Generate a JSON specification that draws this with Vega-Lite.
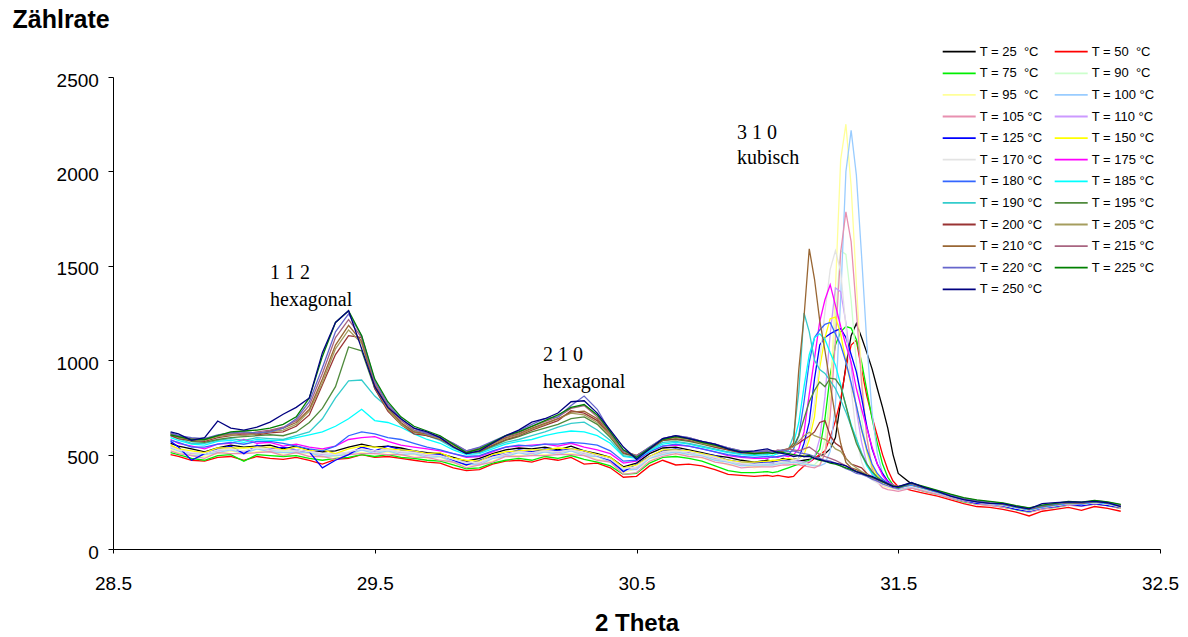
{
"$schema":"https://vega.github.io/schema/vega-lite/v6.json",
"width":1047,"height":472,
"autosize":"none",
"padding":{"left":113,"top":77,"right":28,"bottom":88},
"background":"white",
"config":{"view":{"stroke":null},"font":"Liberation Sans","axis":{"labelFont":"Liberation Sans","titleFont":"Liberation Sans","grid":false,"domainColor":"black","tickColor":"black","labelColor":"black","titleColor":"black"}},
"layer":[
{"data":{"values":[
{"T":25,"x":28.72,"y":560},{"T":25,"x":28.75,"y":545},{"T":25,"x":28.8,"y":530},{"T":25,"x":28.85,"y":515},{"T":25,"x":28.9,"y":535},{"T":25,"x":28.95,"y":550},{"T":25,"x":29,"y":540},{"T":25,"x":29.05,"y":545},{"T":25,"x":29.1,"y":550},{"T":25,"x":29.15,"y":530},{"T":25,"x":29.2,"y":545},{"T":25,"x":29.25,"y":525},{"T":25,"x":29.3,"y":515},{"T":25,"x":29.35,"y":520},{"T":25,"x":29.4,"y":540},{"T":25,"x":29.45,"y":555},{"T":25,"x":29.5,"y":540},{"T":25,"x":29.55,"y":545},{"T":25,"x":29.6,"y":535},{"T":25,"x":29.65,"y":520},{"T":25,"x":29.7,"y":510},{"T":25,"x":29.75,"y":505},{"T":25,"x":29.8,"y":485},{"T":25,"x":29.85,"y":465},{"T":25,"x":29.9,"y":480},{"T":25,"x":29.95,"y":505},{"T":25,"x":30,"y":525},{"T":25,"x":30.05,"y":535},{"T":25,"x":30.1,"y":530},{"T":25,"x":30.15,"y":540},{"T":25,"x":30.2,"y":525},{"T":25,"x":30.25,"y":545},{"T":25,"x":30.3,"y":520},{"T":25,"x":30.35,"y":505},{"T":25,"x":30.4,"y":485},{"T":25,"x":30.45,"y":435},{"T":25,"x":30.5,"y":455},{"T":25,"x":30.55,"y":505},{"T":25,"x":30.6,"y":535},{"T":25,"x":30.65,"y":540},{"T":25,"x":30.7,"y":525},{"T":25,"x":30.75,"y":510},{"T":25,"x":30.8,"y":495},{"T":25,"x":30.85,"y":485},{"T":25,"x":30.9,"y":470},{"T":25,"x":30.95,"y":460},{"T":25,"x":31,"y":470},
{"T":25,"x":31.02,"y":465},{"T":25,"x":31.04,"y":470},{"T":25,"x":31.06,"y":480},{"T":25,"x":31.08,"y":475},{"T":25,"x":31.1,"y":470},{"T":25,"x":31.12,"y":465},{"T":25,"x":31.14,"y":470},{"T":25,"x":31.16,"y":475},{"T":25,"x":31.18,"y":480},{"T":25,"x":31.2,"y":490},{"T":25,"x":31.22,"y":505},{"T":25,"x":31.24,"y":530},{"T":25,"x":31.26,"y":590},{"T":25,"x":31.28,"y":780},{"T":25,"x":31.3,"y":970},{"T":25,"x":31.32,"y":1130},{"T":25,"x":31.34,"y":1194},{"T":25,"x":31.36,"y":1120},{"T":25,"x":31.38,"y":1040},{"T":25,"x":31.4,"y":954},{"T":25,"x":31.42,"y":850},{"T":25,"x":31.44,"y":750},{"T":25,"x":31.46,"y":640},{"T":25,"x":31.48,"y":500},{"T":25,"x":31.5,"y":400},
{"T":25,"x":31.55,"y":345},{"T":25,"x":31.6,"y":325},{"T":25,"x":31.65,"y":305},{"T":25,"x":31.7,"y":285},{"T":25,"x":31.75,"y":265},{"T":25,"x":31.8,"y":250},{"T":25,"x":31.85,"y":245},{"T":25,"x":31.9,"y":235},{"T":25,"x":31.95,"y":222},{"T":25,"x":32,"y":210},{"T":25,"x":32.05,"y":220},{"T":25,"x":32.1,"y":235},{"T":25,"x":32.15,"y":245},{"T":25,"x":32.2,"y":240},{"T":25,"x":32.25,"y":250},{"T":25,"x":32.3,"y":242},{"T":25,"x":32.35,"y":228},
{"T":50,"x":28.72,"y":500},{"T":50,"x":28.75,"y":490},{"T":50,"x":28.8,"y":470},{"T":50,"x":28.85,"y":465},{"T":50,"x":28.9,"y":485},{"T":50,"x":28.95,"y":490},{"T":50,"x":29,"y":470},{"T":50,"x":29.05,"y":490},{"T":50,"x":29.1,"y":480},{"T":50,"x":29.15,"y":475},{"T":50,"x":29.2,"y":485},{"T":50,"x":29.25,"y":470},{"T":50,"x":29.3,"y":450},{"T":50,"x":29.35,"y":475},{"T":50,"x":29.4,"y":480},{"T":50,"x":29.45,"y":500},{"T":50,"x":29.5,"y":485},{"T":50,"x":29.55,"y":490},{"T":50,"x":29.6,"y":480},{"T":50,"x":29.65,"y":470},{"T":50,"x":29.7,"y":460},{"T":50,"x":29.75,"y":455},{"T":50,"x":29.8,"y":430},{"T":50,"x":29.85,"y":415},{"T":50,"x":29.9,"y":420},{"T":50,"x":29.95,"y":450},{"T":50,"x":30,"y":465},{"T":50,"x":30.05,"y":470},{"T":50,"x":30.1,"y":460},{"T":50,"x":30.15,"y":480},{"T":50,"x":30.2,"y":470},{"T":50,"x":30.25,"y":485},{"T":50,"x":30.3,"y":450},{"T":50,"x":30.35,"y":455},{"T":50,"x":30.4,"y":430},{"T":50,"x":30.45,"y":380},{"T":50,"x":30.5,"y":385},{"T":50,"x":30.55,"y":440},{"T":50,"x":30.6,"y":470},{"T":50,"x":30.65,"y":445},{"T":50,"x":30.7,"y":450},{"T":50,"x":30.75,"y":440},{"T":50,"x":30.8,"y":420},{"T":50,"x":30.85,"y":395},{"T":50,"x":30.9,"y":390},{"T":50,"x":30.95,"y":385},{"T":50,"x":31,"y":390},
{"T":50,"x":31.02,"y":385},{"T":50,"x":31.04,"y":390},{"T":50,"x":31.06,"y":385},{"T":50,"x":31.08,"y":380},{"T":50,"x":31.1,"y":384},{"T":50,"x":31.12,"y":415},{"T":50,"x":31.14,"y":440},{"T":50,"x":31.16,"y":460},{"T":50,"x":31.18,"y":480},{"T":50,"x":31.2,"y":500},{"T":50,"x":31.22,"y":520},{"T":50,"x":31.24,"y":590},{"T":50,"x":31.26,"y":680},{"T":50,"x":31.28,"y":790},{"T":50,"x":31.3,"y":960},{"T":50,"x":31.32,"y":1080},{"T":50,"x":31.34,"y":1105},{"T":50,"x":31.36,"y":950},{"T":50,"x":31.38,"y":810},{"T":50,"x":31.4,"y":700},{"T":50,"x":31.42,"y":600},{"T":50,"x":31.44,"y":500},{"T":50,"x":31.46,"y":420},{"T":50,"x":31.48,"y":360},{"T":50,"x":31.5,"y":330},
{"T":50,"x":31.55,"y":310},{"T":50,"x":31.6,"y":295},{"T":50,"x":31.65,"y":280},{"T":50,"x":31.7,"y":260},{"T":50,"x":31.75,"y":240},{"T":50,"x":31.8,"y":225},{"T":50,"x":31.85,"y":220},{"T":50,"x":31.9,"y":210},{"T":50,"x":31.95,"y":195},{"T":50,"x":32,"y":175},{"T":50,"x":32.05,"y":200},{"T":50,"x":32.1,"y":210},{"T":50,"x":32.15,"y":220},{"T":50,"x":32.2,"y":205},{"T":50,"x":32.25,"y":225},{"T":50,"x":32.3,"y":215},{"T":50,"x":32.35,"y":200},
{"T":75,"x":28.72,"y":510},{"T":75,"x":28.75,"y":500},{"T":75,"x":28.8,"y":480},{"T":75,"x":28.85,"y":470},{"T":75,"x":28.9,"y":495},{"T":75,"x":28.95,"y":500},{"T":75,"x":29,"y":465},{"T":75,"x":29.05,"y":500},{"T":75,"x":29.1,"y":495},{"T":75,"x":29.15,"y":490},{"T":75,"x":29.2,"y":495},{"T":75,"x":29.25,"y":480},{"T":75,"x":29.3,"y":470},{"T":75,"x":29.35,"y":480},{"T":75,"x":29.4,"y":485},{"T":75,"x":29.45,"y":500},{"T":75,"x":29.5,"y":490},{"T":75,"x":29.55,"y":500},{"T":75,"x":29.6,"y":485},{"T":75,"x":29.65,"y":480},{"T":75,"x":29.7,"y":470},{"T":75,"x":29.75,"y":465},{"T":75,"x":29.8,"y":445},{"T":75,"x":29.85,"y":425},{"T":75,"x":29.9,"y":430},{"T":75,"x":29.95,"y":455},{"T":75,"x":30,"y":470},{"T":75,"x":30.05,"y":480},{"T":75,"x":30.1,"y":470},{"T":75,"x":30.15,"y":490},{"T":75,"x":30.2,"y":480},{"T":75,"x":30.25,"y":495},{"T":75,"x":30.3,"y":475},{"T":75,"x":30.35,"y":460},{"T":75,"x":30.4,"y":440},{"T":75,"x":30.45,"y":395},{"T":75,"x":30.5,"y":400},{"T":75,"x":30.55,"y":455},{"T":75,"x":30.6,"y":485},{"T":75,"x":30.65,"y":490},{"T":75,"x":30.7,"y":480},{"T":75,"x":30.75,"y":465},{"T":75,"x":30.8,"y":440},{"T":75,"x":30.85,"y":415},{"T":75,"x":30.9,"y":405},{"T":75,"x":30.95,"y":405},{"T":75,"x":31,"y":410},
{"T":75,"x":31.02,"y":405},{"T":75,"x":31.04,"y":410},{"T":75,"x":31.06,"y":420},{"T":75,"x":31.08,"y":430},{"T":75,"x":31.1,"y":440},{"T":75,"x":31.12,"y":450},{"T":75,"x":31.14,"y":460},{"T":75,"x":31.16,"y":470},{"T":75,"x":31.18,"y":490},{"T":75,"x":31.2,"y":528},{"T":75,"x":31.22,"y":690},{"T":75,"x":31.24,"y":920},{"T":75,"x":31.26,"y":1080},{"T":75,"x":31.28,"y":1150},{"T":75,"x":31.3,"y":1178},{"T":75,"x":31.32,"y":1170},{"T":75,"x":31.34,"y":1110},{"T":75,"x":31.36,"y":990},{"T":75,"x":31.38,"y":840},{"T":75,"x":31.4,"y":690},{"T":75,"x":31.42,"y":560},{"T":75,"x":31.44,"y":450},{"T":75,"x":31.46,"y":380},{"T":75,"x":31.48,"y":340},{"T":75,"x":31.5,"y":320},
{"T":75,"x":31.55,"y":325},{"T":75,"x":31.6,"y":305},{"T":75,"x":31.65,"y":290},{"T":75,"x":31.7,"y":270},{"T":75,"x":31.75,"y":250},{"T":75,"x":31.8,"y":238},{"T":75,"x":31.85,"y":232},{"T":75,"x":31.9,"y":222},{"T":75,"x":31.95,"y":208},{"T":75,"x":32,"y":195},{"T":75,"x":32.05,"y":212},{"T":75,"x":32.1,"y":220},{"T":75,"x":32.15,"y":232},{"T":75,"x":32.2,"y":228},{"T":75,"x":32.25,"y":238},{"T":75,"x":32.3,"y":230},{"T":75,"x":32.35,"y":215},
{"T":90,"x":28.72,"y":540},{"T":90,"x":28.75,"y":525},{"T":90,"x":28.8,"y":505},{"T":90,"x":28.85,"y":500},{"T":90,"x":28.9,"y":520},{"T":90,"x":28.95,"y":525},{"T":90,"x":29,"y":515},{"T":90,"x":29.05,"y":530},{"T":90,"x":29.1,"y":525},{"T":90,"x":29.15,"y":515},{"T":90,"x":29.2,"y":520},{"T":90,"x":29.25,"y":510},{"T":90,"x":29.3,"y":500},{"T":90,"x":29.35,"y":495},{"T":90,"x":29.4,"y":510},{"T":90,"x":29.45,"y":525},{"T":90,"x":29.5,"y":515},{"T":90,"x":29.55,"y":520},{"T":90,"x":29.6,"y":510},{"T":90,"x":29.65,"y":505},{"T":90,"x":29.7,"y":495},{"T":90,"x":29.75,"y":490},{"T":90,"x":29.8,"y":470},{"T":90,"x":29.85,"y":450},{"T":90,"x":29.9,"y":455},{"T":90,"x":29.95,"y":480},{"T":90,"x":30,"y":500},{"T":90,"x":30.05,"y":510},{"T":90,"x":30.1,"y":505},{"T":90,"x":30.15,"y":515},{"T":90,"x":30.2,"y":510},{"T":90,"x":30.25,"y":520},{"T":90,"x":30.3,"y":505},{"T":90,"x":30.35,"y":490},{"T":90,"x":30.4,"y":470},{"T":90,"x":30.45,"y":420},{"T":90,"x":30.5,"y":430},{"T":90,"x":30.55,"y":480},{"T":90,"x":30.6,"y":510},{"T":90,"x":30.65,"y":515},{"T":90,"x":30.7,"y":510},{"T":90,"x":30.75,"y":495},{"T":90,"x":30.8,"y":480},{"T":90,"x":30.85,"y":460},{"T":90,"x":30.9,"y":450},{"T":90,"x":30.95,"y":445},{"T":90,"x":31,"y":450},
{"T":90,"x":31.02,"y":450},{"T":90,"x":31.04,"y":455},{"T":90,"x":31.06,"y":460},{"T":90,"x":31.08,"y":460},{"T":90,"x":31.1,"y":465},{"T":90,"x":31.12,"y":460},{"T":90,"x":31.14,"y":455},{"T":90,"x":31.16,"y":450},{"T":90,"x":31.18,"y":446},{"T":90,"x":31.2,"y":475},{"T":90,"x":31.22,"y":580},{"T":90,"x":31.24,"y":833},{"T":90,"x":31.26,"y":1228},{"T":90,"x":31.28,"y":1580},{"T":90,"x":31.3,"y":1560},{"T":90,"x":31.32,"y":1317},{"T":90,"x":31.34,"y":982},{"T":90,"x":31.36,"y":694},{"T":90,"x":31.38,"y":508},{"T":90,"x":31.4,"y":416},{"T":90,"x":31.42,"y":375},{"T":90,"x":31.44,"y":350},{"T":90,"x":31.46,"y":340},{"T":90,"x":31.48,"y":330},{"T":90,"x":31.5,"y":320},
{"T":90,"x":31.55,"y":330},{"T":90,"x":31.6,"y":312},{"T":90,"x":31.65,"y":295},{"T":90,"x":31.7,"y":275},{"T":90,"x":31.75,"y":255},{"T":90,"x":31.8,"y":244},{"T":90,"x":31.85,"y":236},{"T":90,"x":31.9,"y":228},{"T":90,"x":31.95,"y":214},{"T":90,"x":32,"y":202},{"T":90,"x":32.05,"y":216},{"T":90,"x":32.1,"y":226},{"T":90,"x":32.15,"y":236},{"T":90,"x":32.2,"y":232},{"T":90,"x":32.25,"y":242},{"T":90,"x":32.3,"y":234},{"T":90,"x":32.35,"y":220},
{"T":95,"x":28.72,"y":530},{"T":95,"x":28.75,"y":510},{"T":95,"x":28.8,"y":500},{"T":95,"x":28.85,"y":490},{"T":95,"x":28.9,"y":505},{"T":95,"x":28.95,"y":520},{"T":95,"x":29,"y":505},{"T":95,"x":29.05,"y":515},{"T":95,"x":29.1,"y":520},{"T":95,"x":29.15,"y":500},{"T":95,"x":29.2,"y":510},{"T":95,"x":29.25,"y":505},{"T":95,"x":29.3,"y":485},{"T":95,"x":29.35,"y":490},{"T":95,"x":29.4,"y":505},{"T":95,"x":29.45,"y":510},{"T":95,"x":29.5,"y":505},{"T":95,"x":29.55,"y":515},{"T":95,"x":29.6,"y":495},{"T":95,"x":29.65,"y":500},{"T":95,"x":29.7,"y":480},{"T":95,"x":29.75,"y":485},{"T":95,"x":29.8,"y":455},{"T":95,"x":29.85,"y":440},{"T":95,"x":29.9,"y":450},{"T":95,"x":29.95,"y":465},{"T":95,"x":30,"y":495},{"T":95,"x":30.05,"y":495},{"T":95,"x":30.1,"y":500},{"T":95,"x":30.15,"y":500},{"T":95,"x":30.2,"y":505},{"T":95,"x":30.25,"y":505},{"T":95,"x":30.3,"y":500},{"T":95,"x":30.35,"y":475},{"T":95,"x":30.4,"y":465},{"T":95,"x":30.45,"y":405},{"T":95,"x":30.5,"y":425},{"T":95,"x":30.55,"y":465},{"T":95,"x":30.6,"y":505},{"T":95,"x":30.65,"y":500},{"T":95,"x":30.7,"y":505},{"T":95,"x":30.75,"y":480},{"T":95,"x":30.8,"y":475},{"T":95,"x":30.85,"y":445},{"T":95,"x":30.9,"y":445},{"T":95,"x":30.95,"y":430},{"T":95,"x":31,"y":445},
{"T":95,"x":31.02,"y":445},{"T":95,"x":31.04,"y":450},{"T":95,"x":31.06,"y":455},{"T":95,"x":31.08,"y":455},{"T":95,"x":31.1,"y":460},{"T":95,"x":31.12,"y":455},{"T":95,"x":31.14,"y":450},{"T":95,"x":31.16,"y":445},{"T":95,"x":31.18,"y":440},{"T":95,"x":31.2,"y":446},{"T":95,"x":31.22,"y":508},{"T":95,"x":31.24,"y":777},{"T":95,"x":31.26,"y":1377},{"T":95,"x":31.28,"y":2061},{"T":95,"x":31.3,"y":2250},{"T":95,"x":31.32,"y":1921},{"T":95,"x":31.34,"y":1404},{"T":95,"x":31.36,"y":925},{"T":95,"x":31.38,"y":600},{"T":95,"x":31.4,"y":431},{"T":95,"x":31.42,"y":362},{"T":95,"x":31.44,"y":335},{"T":95,"x":31.46,"y":325},{"T":95,"x":31.48,"y":320},{"T":95,"x":31.5,"y":315},
{"T":95,"x":31.55,"y":325},{"T":95,"x":31.6,"y":315},{"T":95,"x":31.65,"y":290},{"T":95,"x":31.7,"y":272},{"T":95,"x":31.75,"y":258},{"T":95,"x":31.8,"y":242},{"T":95,"x":31.85,"y":238},{"T":95,"x":31.9,"y":226},{"T":95,"x":31.95,"y":216},{"T":95,"x":32,"y":200},{"T":95,"x":32.05,"y":214},{"T":95,"x":32.1,"y":228},{"T":95,"x":32.15,"y":238},{"T":95,"x":32.2,"y":230},{"T":95,"x":32.25,"y":244},{"T":95,"x":32.3,"y":232},{"T":95,"x":32.35,"y":218},
{"T":100,"x":28.72,"y":535},{"T":100,"x":28.75,"y":520},{"T":100,"x":28.8,"y":495},{"T":100,"x":28.85,"y":500},{"T":100,"x":28.9,"y":510},{"T":100,"x":28.95,"y":525},{"T":100,"x":29,"y":505},{"T":100,"x":29.05,"y":530},{"T":100,"x":29.1,"y":515},{"T":100,"x":29.15,"y":510},{"T":100,"x":29.2,"y":510},{"T":100,"x":29.25,"y":510},{"T":100,"x":29.3,"y":490},{"T":100,"x":29.35,"y":495},{"T":100,"x":29.4,"y":500},{"T":100,"x":29.45,"y":525},{"T":100,"x":29.5,"y":505},{"T":100,"x":29.55,"y":520},{"T":100,"x":29.6,"y":500},{"T":100,"x":29.65,"y":505},{"T":100,"x":29.7,"y":485},{"T":100,"x":29.75,"y":490},{"T":100,"x":29.8,"y":460},{"T":100,"x":29.85,"y":450},{"T":100,"x":29.9,"y":445},{"T":100,"x":29.95,"y":480},{"T":100,"x":30,"y":490},{"T":100,"x":30.05,"y":510},{"T":100,"x":30.1,"y":495},{"T":100,"x":30.15,"y":515},{"T":100,"x":30.2,"y":500},{"T":100,"x":30.25,"y":520},{"T":100,"x":30.3,"y":495},{"T":100,"x":30.35,"y":490},{"T":100,"x":30.4,"y":460},{"T":100,"x":30.45,"y":420},{"T":100,"x":30.5,"y":420},{"T":100,"x":30.55,"y":480},{"T":100,"x":30.6,"y":500},{"T":100,"x":30.65,"y":515},{"T":100,"x":30.7,"y":500},{"T":100,"x":30.75,"y":495},{"T":100,"x":30.8,"y":470},{"T":100,"x":30.85,"y":460},{"T":100,"x":30.9,"y":440},{"T":100,"x":30.95,"y":445},{"T":100,"x":31,"y":445},
{"T":100,"x":31.02,"y":445},{"T":100,"x":31.04,"y":450},{"T":100,"x":31.06,"y":455},{"T":100,"x":31.08,"y":455},{"T":100,"x":31.1,"y":460},{"T":100,"x":31.12,"y":455},{"T":100,"x":31.14,"y":450},{"T":100,"x":31.16,"y":445},{"T":100,"x":31.18,"y":440},{"T":100,"x":31.2,"y":440},{"T":100,"x":31.22,"y":453},{"T":100,"x":31.24,"y":517},{"T":100,"x":31.26,"y":766},{"T":100,"x":31.28,"y":1328},{"T":100,"x":31.3,"y":1998},{"T":100,"x":31.32,"y":2217},{"T":100,"x":31.34,"y":1980},{"T":100,"x":31.36,"y":1551},{"T":100,"x":31.38,"y":1089},{"T":100,"x":31.4,"y":723},{"T":100,"x":31.42,"y":508},{"T":100,"x":31.44,"y":400},{"T":100,"x":31.46,"y":351},{"T":100,"x":31.48,"y":325},{"T":100,"x":31.5,"y":315},
{"T":100,"x":31.55,"y":328},{"T":100,"x":31.6,"y":310},{"T":100,"x":31.65,"y":292},{"T":100,"x":31.7,"y":272},{"T":100,"x":31.75,"y":256},{"T":100,"x":31.8,"y":240},{"T":100,"x":31.85,"y":235},{"T":100,"x":31.9,"y":225},{"T":100,"x":31.95,"y":212},{"T":100,"x":32,"y":198},{"T":100,"x":32.05,"y":215},{"T":100,"x":32.1,"y":224},{"T":100,"x":32.15,"y":235},{"T":100,"x":32.2,"y":230},{"T":100,"x":32.25,"y":240},{"T":100,"x":32.3,"y":235},{"T":100,"x":32.35,"y":218},
{"T":105,"x":28.72,"y":520},{"T":105,"x":28.75,"y":505},{"T":105,"x":28.8,"y":495},{"T":105,"x":28.85,"y":480},{"T":105,"x":28.9,"y":510},{"T":105,"x":28.95,"y":505},{"T":105,"x":29,"y":505},{"T":105,"x":29.05,"y":510},{"T":105,"x":29.1,"y":515},{"T":105,"x":29.15,"y":495},{"T":105,"x":29.2,"y":510},{"T":105,"x":29.25,"y":490},{"T":105,"x":29.3,"y":490},{"T":105,"x":29.35,"y":475},{"T":105,"x":29.4,"y":500},{"T":105,"x":29.45,"y":505},{"T":105,"x":29.5,"y":505},{"T":105,"x":29.55,"y":500},{"T":105,"x":29.6,"y":500},{"T":105,"x":29.65,"y":485},{"T":105,"x":29.7,"y":485},{"T":105,"x":29.75,"y":470},{"T":105,"x":29.8,"y":460},{"T":105,"x":29.85,"y":430},{"T":105,"x":29.9,"y":445},{"T":105,"x":29.95,"y":460},{"T":105,"x":30,"y":490},{"T":105,"x":30.05,"y":490},{"T":105,"x":30.1,"y":495},{"T":105,"x":30.15,"y":495},{"T":105,"x":30.2,"y":500},{"T":105,"x":30.25,"y":500},{"T":105,"x":30.3,"y":495},{"T":105,"x":30.35,"y":470},{"T":105,"x":30.4,"y":460},{"T":105,"x":30.45,"y":395},{"T":105,"x":30.5,"y":405},{"T":105,"x":30.55,"y":465},{"T":105,"x":30.6,"y":490},{"T":105,"x":30.65,"y":505},{"T":105,"x":30.7,"y":490},{"T":105,"x":30.75,"y":485},{"T":105,"x":30.8,"y":460},{"T":105,"x":30.85,"y":450},{"T":105,"x":30.9,"y":430},{"T":105,"x":30.95,"y":435},{"T":105,"x":31,"y":435},
{"T":105,"x":31.02,"y":435},{"T":105,"x":31.04,"y":440},{"T":105,"x":31.06,"y":445},{"T":105,"x":31.08,"y":445},{"T":105,"x":31.1,"y":450},{"T":105,"x":31.12,"y":445},{"T":105,"x":31.14,"y":440},{"T":105,"x":31.16,"y":435},{"T":105,"x":31.18,"y":430},{"T":105,"x":31.2,"y":443},{"T":105,"x":31.22,"y":503},{"T":105,"x":31.24,"y":704},{"T":105,"x":31.26,"y":1105},{"T":105,"x":31.28,"y":1572},{"T":105,"x":31.3,"y":1786},{"T":105,"x":31.32,"y":1628},{"T":105,"x":31.34,"y":1264},{"T":105,"x":31.36,"y":877},{"T":105,"x":31.38,"y":588},{"T":105,"x":31.4,"y":428},{"T":105,"x":31.42,"y":355},{"T":105,"x":31.44,"y":325},{"T":105,"x":31.46,"y":315},{"T":105,"x":31.48,"y":310},{"T":105,"x":31.5,"y":305},
{"T":105,"x":31.55,"y":322},{"T":105,"x":31.6,"y":305},{"T":105,"x":31.65,"y":290},{"T":105,"x":31.7,"y":268},{"T":105,"x":31.75,"y":252},{"T":105,"x":31.8,"y":238},{"T":105,"x":31.85,"y":230},{"T":105,"x":31.9,"y":222},{"T":105,"x":31.95,"y":210},{"T":105,"x":32,"y":196},{"T":105,"x":32.05,"y":210},{"T":105,"x":32.1,"y":222},{"T":105,"x":32.15,"y":232},{"T":105,"x":32.2,"y":226},{"T":105,"x":32.25,"y":238},{"T":105,"x":32.3,"y":230},{"T":105,"x":32.35,"y":215},
{"T":110,"x":28.72,"y":545},{"T":110,"x":28.75,"y":530},{"T":110,"x":28.8,"y":505},{"T":110,"x":28.85,"y":510},{"T":110,"x":28.9,"y":520},{"T":110,"x":28.95,"y":535},{"T":110,"x":29,"y":515},{"T":110,"x":29.05,"y":540},{"T":110,"x":29.1,"y":525},{"T":110,"x":29.15,"y":525},{"T":110,"x":29.2,"y":520},{"T":110,"x":29.25,"y":520},{"T":110,"x":29.3,"y":500},{"T":110,"x":29.35,"y":505},{"T":110,"x":29.4,"y":510},{"T":110,"x":29.45,"y":535},{"T":110,"x":29.5,"y":515},{"T":110,"x":29.55,"y":530},{"T":110,"x":29.6,"y":510},{"T":110,"x":29.65,"y":515},{"T":110,"x":29.7,"y":495},{"T":110,"x":29.75,"y":500},{"T":110,"x":29.8,"y":470},{"T":110,"x":29.85,"y":460},{"T":110,"x":29.9,"y":455},{"T":110,"x":29.95,"y":490},{"T":110,"x":30,"y":500},{"T":110,"x":30.05,"y":520},{"T":110,"x":30.1,"y":505},{"T":110,"x":30.15,"y":525},{"T":110,"x":30.2,"y":510},{"T":110,"x":30.25,"y":530},{"T":110,"x":30.3,"y":505},{"T":110,"x":30.35,"y":500},{"T":110,"x":30.4,"y":470},{"T":110,"x":30.45,"y":430},{"T":110,"x":30.5,"y":430},{"T":110,"x":30.55,"y":490},{"T":110,"x":30.6,"y":510},{"T":110,"x":30.65,"y":525},{"T":110,"x":30.7,"y":510},{"T":110,"x":30.75,"y":505},{"T":110,"x":30.8,"y":480},{"T":110,"x":30.85,"y":470},{"T":110,"x":30.9,"y":450},{"T":110,"x":30.95,"y":455},{"T":110,"x":31,"y":455},
{"T":110,"x":31.02,"y":455},{"T":110,"x":31.04,"y":460},{"T":110,"x":31.06,"y":465},{"T":110,"x":31.08,"y":465},{"T":110,"x":31.1,"y":470},{"T":110,"x":31.12,"y":465},{"T":110,"x":31.14,"y":460},{"T":110,"x":31.16,"y":462},{"T":110,"x":31.18,"y":486},{"T":110,"x":31.2,"y":584},{"T":110,"x":31.22,"y":807},{"T":110,"x":31.24,"y":1140},{"T":110,"x":31.26,"y":1383},{"T":110,"x":31.28,"y":1363},{"T":110,"x":31.3,"y":1199},{"T":110,"x":31.32,"y":968},{"T":110,"x":31.34,"y":735},{"T":110,"x":31.36,"y":566},{"T":110,"x":31.38,"y":454},{"T":110,"x":31.4,"y":392},{"T":110,"x":31.42,"y":361},{"T":110,"x":31.44,"y":340},{"T":110,"x":31.46,"y":330},{"T":110,"x":31.48,"y":325},{"T":110,"x":31.5,"y":320},
{"T":110,"x":31.55,"y":332},{"T":110,"x":31.6,"y":314},{"T":110,"x":31.65,"y":296},{"T":110,"x":31.7,"y":276},{"T":110,"x":31.75,"y":258},{"T":110,"x":31.8,"y":246},{"T":110,"x":31.85,"y":238},{"T":110,"x":31.9,"y":230},{"T":110,"x":31.95,"y":216},{"T":110,"x":32,"y":204},{"T":110,"x":32.05,"y":218},{"T":110,"x":32.1,"y":228},{"T":110,"x":32.15,"y":238},{"T":110,"x":32.2,"y":234},{"T":110,"x":32.25,"y":244},{"T":110,"x":32.3,"y":236},{"T":110,"x":32.35,"y":222},
{"T":125,"x":28.72,"y":570},{"T":125,"x":28.75,"y":540},{"T":125,"x":28.8,"y":470},{"T":125,"x":28.85,"y":505},{"T":125,"x":28.9,"y":530},{"T":125,"x":28.95,"y":545},{"T":125,"x":29,"y":505},{"T":125,"x":29.05,"y":550},{"T":125,"x":29.1,"y":530},{"T":125,"x":29.15,"y":540},{"T":125,"x":29.2,"y":525},{"T":125,"x":29.25,"y":515},{"T":125,"x":29.3,"y":430},{"T":125,"x":29.35,"y":470},{"T":125,"x":29.4,"y":500},{"T":125,"x":29.45,"y":540},{"T":125,"x":29.5,"y":520},{"T":125,"x":29.55,"y":545},{"T":125,"x":29.6,"y":525},{"T":125,"x":29.65,"y":520},{"T":125,"x":29.7,"y":505},{"T":125,"x":29.75,"y":500},{"T":125,"x":29.8,"y":470},{"T":125,"x":29.85,"y":445},{"T":125,"x":29.9,"y":470},{"T":125,"x":29.95,"y":495},{"T":125,"x":30,"y":505},{"T":125,"x":30.05,"y":525},{"T":125,"x":30.1,"y":515},{"T":125,"x":30.15,"y":530},{"T":125,"x":30.2,"y":520},{"T":125,"x":30.25,"y":530},{"T":125,"x":30.3,"y":520},{"T":125,"x":30.35,"y":495},{"T":125,"x":30.4,"y":470},{"T":125,"x":30.45,"y":410},{"T":125,"x":30.5,"y":450},{"T":125,"x":30.55,"y":490},{"T":125,"x":30.6,"y":520},{"T":125,"x":30.65,"y":530},{"T":125,"x":30.7,"y":515},{"T":125,"x":30.75,"y":505},{"T":125,"x":30.8,"y":495},{"T":125,"x":30.85,"y":470},{"T":125,"x":30.9,"y":460},{"T":125,"x":30.95,"y":455},{"T":125,"x":31,"y":460},
{"T":125,"x":31.02,"y":455},{"T":125,"x":31.04,"y":465},{"T":125,"x":31.06,"y":470},{"T":125,"x":31.08,"y":465},{"T":125,"x":31.1,"y":475},{"T":125,"x":31.12,"y":480},{"T":125,"x":31.14,"y":560},{"T":125,"x":31.16,"y":672},{"T":125,"x":31.18,"y":900},{"T":125,"x":31.2,"y":1080},{"T":125,"x":31.22,"y":1120},{"T":125,"x":31.24,"y":1140},{"T":125,"x":31.26,"y":1155},{"T":125,"x":31.28,"y":1167},{"T":125,"x":31.3,"y":1120},{"T":125,"x":31.32,"y":1030},{"T":125,"x":31.34,"y":938},{"T":125,"x":31.36,"y":800},{"T":125,"x":31.38,"y":650},{"T":125,"x":31.4,"y":530},{"T":125,"x":31.42,"y":450},{"T":125,"x":31.44,"y":400},{"T":125,"x":31.46,"y":360},{"T":125,"x":31.48,"y":335},{"T":125,"x":31.5,"y":320},
{"T":125,"x":31.55,"y":335},{"T":125,"x":31.6,"y":318},{"T":125,"x":31.65,"y":300},{"T":125,"x":31.7,"y":278},{"T":125,"x":31.75,"y":258},{"T":125,"x":31.8,"y":242},{"T":125,"x":31.85,"y":240},{"T":125,"x":31.9,"y":228},{"T":125,"x":31.95,"y":210},{"T":125,"x":32,"y":200},{"T":125,"x":32.05,"y":218},{"T":125,"x":32.1,"y":225},{"T":125,"x":32.15,"y":238},{"T":125,"x":32.2,"y":228},{"T":125,"x":32.25,"y":240},{"T":125,"x":32.3,"y":230},{"T":125,"x":32.35,"y":220},
{"T":150,"x":28.72,"y":550},{"T":150,"x":28.75,"y":530},{"T":150,"x":28.8,"y":520},{"T":150,"x":28.85,"y":510},{"T":150,"x":28.9,"y":535},{"T":150,"x":28.95,"y":535},{"T":150,"x":29,"y":535},{"T":150,"x":29.05,"y":540},{"T":150,"x":29.1,"y":540},{"T":150,"x":29.15,"y":525},{"T":150,"x":29.2,"y":540},{"T":150,"x":29.25,"y":520},{"T":150,"x":29.3,"y":525},{"T":150,"x":29.35,"y":505},{"T":150,"x":29.4,"y":530},{"T":150,"x":29.45,"y":545},{"T":150,"x":29.5,"y":540},{"T":150,"x":29.55,"y":530},{"T":150,"x":29.6,"y":525},{"T":150,"x":29.65,"y":520},{"T":150,"x":29.7,"y":505},{"T":150,"x":29.75,"y":510},{"T":150,"x":29.8,"y":480},{"T":150,"x":29.85,"y":470},{"T":150,"x":29.9,"y":465},{"T":150,"x":29.95,"y":500},{"T":150,"x":30,"y":515},{"T":150,"x":30.05,"y":520},{"T":150,"x":30.1,"y":525},{"T":150,"x":30.15,"y":525},{"T":150,"x":30.2,"y":535},{"T":150,"x":30.25,"y":530},{"T":150,"x":30.3,"y":520},{"T":150,"x":30.35,"y":500},{"T":150,"x":30.4,"y":485},{"T":150,"x":30.45,"y":430},{"T":150,"x":30.5,"y":445},{"T":150,"x":30.55,"y":490},{"T":150,"x":30.6,"y":525},{"T":150,"x":30.65,"y":525},{"T":150,"x":30.7,"y":520},{"T":150,"x":30.75,"y":505},{"T":150,"x":30.8,"y":490},{"T":150,"x":30.85,"y":470},{"T":150,"x":30.9,"y":460},{"T":150,"x":30.95,"y":460},{"T":150,"x":31,"y":465},
{"T":150,"x":31.02,"y":470},{"T":150,"x":31.04,"y":470},{"T":150,"x":31.06,"y":475},{"T":150,"x":31.08,"y":480},{"T":150,"x":31.1,"y":475},{"T":150,"x":31.12,"y":480},{"T":150,"x":31.14,"y":500},{"T":150,"x":31.16,"y":580},{"T":150,"x":31.18,"y":700},{"T":150,"x":31.2,"y":960},{"T":150,"x":31.22,"y":1120},{"T":150,"x":31.24,"y":1220},{"T":150,"x":31.26,"y":1228},{"T":150,"x":31.28,"y":1140},{"T":150,"x":31.3,"y":991},{"T":150,"x":31.32,"y":870},{"T":150,"x":31.34,"y":758},{"T":150,"x":31.36,"y":630},{"T":150,"x":31.38,"y":520},{"T":150,"x":31.4,"y":440},{"T":150,"x":31.42,"y":390},{"T":150,"x":31.44,"y":360},{"T":150,"x":31.46,"y":340},{"T":150,"x":31.48,"y":330},{"T":150,"x":31.5,"y":320},
{"T":150,"x":31.55,"y":335},{"T":150,"x":31.6,"y":316},{"T":150,"x":31.65,"y":298},{"T":150,"x":31.7,"y":278},{"T":150,"x":31.75,"y":260},{"T":150,"x":31.8,"y":248},{"T":150,"x":31.85,"y":240},{"T":150,"x":31.9,"y":232},{"T":150,"x":31.95,"y":218},{"T":150,"x":32,"y":205},{"T":150,"x":32.05,"y":220},{"T":150,"x":32.1,"y":230},{"T":150,"x":32.15,"y":240},{"T":150,"x":32.2,"y":236},{"T":150,"x":32.25,"y":246},{"T":150,"x":32.3,"y":238},{"T":150,"x":32.35,"y":222},
{"T":170,"x":28.72,"y":540},{"T":170,"x":28.75,"y":525},{"T":170,"x":28.8,"y":510},{"T":170,"x":28.85,"y":505},{"T":170,"x":28.9,"y":525},{"T":170,"x":28.95,"y":530},{"T":170,"x":29,"y":520},{"T":170,"x":29.05,"y":535},{"T":170,"x":29.1,"y":530},{"T":170,"x":29.15,"y":520},{"T":170,"x":29.2,"y":525},{"T":170,"x":29.25,"y":515},{"T":170,"x":29.3,"y":505},{"T":170,"x":29.35,"y":500},{"T":170,"x":29.4,"y":515},{"T":170,"x":29.45,"y":530},{"T":170,"x":29.5,"y":520},{"T":170,"x":29.55,"y":525},{"T":170,"x":29.6,"y":515},{"T":170,"x":29.65,"y":510},{"T":170,"x":29.7,"y":500},{"T":170,"x":29.75,"y":495},{"T":170,"x":29.8,"y":475},{"T":170,"x":29.85,"y":455},{"T":170,"x":29.9,"y":460},{"T":170,"x":29.95,"y":485},{"T":170,"x":30,"y":505},{"T":170,"x":30.05,"y":515},{"T":170,"x":30.1,"y":510},{"T":170,"x":30.15,"y":520},{"T":170,"x":30.2,"y":515},{"T":170,"x":30.25,"y":525},{"T":170,"x":30.3,"y":510},{"T":170,"x":30.35,"y":495},{"T":170,"x":30.4,"y":475},{"T":170,"x":30.45,"y":425},{"T":170,"x":30.5,"y":435},{"T":170,"x":30.55,"y":485},{"T":170,"x":30.6,"y":515},{"T":170,"x":30.65,"y":520},{"T":170,"x":30.7,"y":515},{"T":170,"x":30.75,"y":500},{"T":170,"x":30.8,"y":485},{"T":170,"x":30.85,"y":465},{"T":170,"x":30.9,"y":455},{"T":170,"x":30.95,"y":450},{"T":170,"x":31,"y":455},
{"T":170,"x":31.02,"y":455},{"T":170,"x":31.04,"y":460},{"T":170,"x":31.06,"y":465},{"T":170,"x":31.08,"y":465},{"T":170,"x":31.1,"y":470},{"T":170,"x":31.12,"y":480},{"T":170,"x":31.14,"y":526},{"T":170,"x":31.16,"y":611},{"T":170,"x":31.18,"y":764},{"T":170,"x":31.2,"y":998},{"T":170,"x":31.22,"y":1257},{"T":170,"x":31.24,"y":1481},{"T":170,"x":31.26,"y":1580},{"T":170,"x":31.28,"y":1471},{"T":170,"x":31.3,"y":1179},{"T":170,"x":31.32,"y":849},{"T":170,"x":31.34,"y":599},{"T":170,"x":31.36,"y":461},{"T":170,"x":31.38,"y":394},{"T":170,"x":31.4,"y":365},{"T":170,"x":31.42,"y":350},{"T":170,"x":31.44,"y":340},{"T":170,"x":31.46,"y":330},{"T":170,"x":31.48,"y":325},{"T":170,"x":31.5,"y":320},
{"T":170,"x":31.55,"y":332},{"T":170,"x":31.6,"y":315},{"T":170,"x":31.65,"y":297},{"T":170,"x":31.7,"y":277},{"T":170,"x":31.75,"y":259},{"T":170,"x":31.8,"y":247},{"T":170,"x":31.85,"y":239},{"T":170,"x":31.9,"y":231},{"T":170,"x":31.95,"y":217},{"T":170,"x":32,"y":204},{"T":170,"x":32.05,"y":219},{"T":170,"x":32.1,"y":229},{"T":170,"x":32.15,"y":239},{"T":170,"x":32.2,"y":235},{"T":170,"x":32.25,"y":245},{"T":170,"x":32.3,"y":237},{"T":170,"x":32.35,"y":223},
{"T":175,"x":28.72,"y":580},{"T":175,"x":28.75,"y":560},{"T":175,"x":28.8,"y":545},{"T":175,"x":28.85,"y":530},{"T":175,"x":28.9,"y":555},{"T":175,"x":28.95,"y":560},{"T":175,"x":29,"y":580},{"T":175,"x":29.05,"y":560},{"T":175,"x":29.1,"y":565},{"T":175,"x":29.15,"y":545},{"T":175,"x":29.2,"y":555},{"T":175,"x":29.25,"y":540},{"T":175,"x":29.3,"y":530},{"T":175,"x":29.35,"y":545},{"T":175,"x":29.4,"y":580},{"T":175,"x":29.45,"y":590},{"T":175,"x":29.5,"y":595},{"T":175,"x":29.55,"y":570},{"T":175,"x":29.6,"y":550},{"T":175,"x":29.65,"y":540},{"T":175,"x":29.7,"y":530},{"T":175,"x":29.75,"y":520},{"T":175,"x":29.8,"y":505},{"T":175,"x":29.85,"y":485},{"T":175,"x":29.9,"y":490},{"T":175,"x":29.95,"y":515},{"T":175,"x":30,"y":540},{"T":175,"x":30.05,"y":545},{"T":175,"x":30.1,"y":550},{"T":175,"x":30.15,"y":555},{"T":175,"x":30.2,"y":545},{"T":175,"x":30.25,"y":560},{"T":175,"x":30.3,"y":540},{"T":175,"x":30.35,"y":525},{"T":175,"x":30.4,"y":505},{"T":175,"x":30.45,"y":455},{"T":175,"x":30.5,"y":465},{"T":175,"x":30.55,"y":515},{"T":175,"x":30.6,"y":545},{"T":175,"x":30.65,"y":550},{"T":175,"x":30.7,"y":545},{"T":175,"x":30.75,"y":530},{"T":175,"x":30.8,"y":515},{"T":175,"x":30.85,"y":495},{"T":175,"x":30.9,"y":485},{"T":175,"x":30.95,"y":480},{"T":175,"x":31,"y":480},
{"T":175,"x":31.02,"y":490},{"T":175,"x":31.04,"y":485},{"T":175,"x":31.06,"y":495},{"T":175,"x":31.08,"y":490},{"T":175,"x":31.1,"y":500},{"T":175,"x":31.12,"y":530},{"T":175,"x":31.14,"y":620},{"T":175,"x":31.16,"y":820},{"T":175,"x":31.18,"y":1010},{"T":175,"x":31.2,"y":1204},{"T":175,"x":31.22,"y":1320},{"T":175,"x":31.24,"y":1400},{"T":175,"x":31.26,"y":1290},{"T":175,"x":31.28,"y":1180},{"T":175,"x":31.3,"y":1080},{"T":175,"x":31.32,"y":990},{"T":175,"x":31.34,"y":850},{"T":175,"x":31.36,"y":740},{"T":175,"x":31.38,"y":640},{"T":175,"x":31.4,"y":540},{"T":175,"x":31.42,"y":450},{"T":175,"x":31.44,"y":390},{"T":175,"x":31.46,"y":355},{"T":175,"x":31.48,"y":340},{"T":175,"x":31.5,"y":330},
{"T":175,"x":31.55,"y":340},{"T":175,"x":31.6,"y":322},{"T":175,"x":31.65,"y":302},{"T":175,"x":31.7,"y":282},{"T":175,"x":31.75,"y":264},{"T":175,"x":31.8,"y":252},{"T":175,"x":31.85,"y":244},{"T":175,"x":31.9,"y":236},{"T":175,"x":31.95,"y":222},{"T":175,"x":32,"y":210},{"T":175,"x":32.05,"y":224},{"T":175,"x":32.1,"y":234},{"T":175,"x":32.15,"y":244},{"T":175,"x":32.2,"y":240},{"T":175,"x":32.25,"y":250},{"T":175,"x":32.3,"y":242},{"T":175,"x":32.35,"y":228},
{"T":180,"x":28.72,"y":575},{"T":180,"x":28.75,"y":565},{"T":180,"x":28.8,"y":540},{"T":180,"x":28.85,"y":540},{"T":180,"x":28.9,"y":555},{"T":180,"x":28.95,"y":565},{"T":180,"x":29,"y":555},{"T":180,"x":29.05,"y":570},{"T":180,"x":29.1,"y":570},{"T":180,"x":29.15,"y":560},{"T":180,"x":29.2,"y":545},{"T":180,"x":29.25,"y":530},{"T":180,"x":29.3,"y":520},{"T":180,"x":29.35,"y":545},{"T":180,"x":29.4,"y":600},{"T":180,"x":29.45,"y":620},{"T":180,"x":29.5,"y":610},{"T":180,"x":29.55,"y":590},{"T":180,"x":29.6,"y":580},{"T":180,"x":29.65,"y":560},{"T":180,"x":29.7,"y":540},{"T":180,"x":29.75,"y":525},{"T":180,"x":29.8,"y":505},{"T":180,"x":29.85,"y":490},{"T":180,"x":29.9,"y":495},{"T":180,"x":29.95,"y":520},{"T":180,"x":30,"y":540},{"T":180,"x":30.05,"y":550},{"T":180,"x":30.1,"y":545},{"T":180,"x":30.15,"y":555},{"T":180,"x":30.2,"y":555},{"T":180,"x":30.25,"y":565},{"T":180,"x":30.3,"y":560},{"T":180,"x":30.35,"y":550},{"T":180,"x":30.4,"y":520},{"T":180,"x":30.45,"y":465},{"T":180,"x":30.5,"y":470},{"T":180,"x":30.55,"y":515},{"T":180,"x":30.6,"y":545},{"T":180,"x":30.65,"y":555},{"T":180,"x":30.7,"y":545},{"T":180,"x":30.75,"y":530},{"T":180,"x":30.8,"y":515},{"T":180,"x":30.85,"y":500},{"T":180,"x":30.9,"y":490},{"T":180,"x":30.95,"y":485},{"T":180,"x":31,"y":490},
{"T":180,"x":31.02,"y":485},{"T":180,"x":31.04,"y":490},{"T":180,"x":31.06,"y":495},{"T":180,"x":31.08,"y":500},{"T":180,"x":31.1,"y":530},{"T":180,"x":31.12,"y":600},{"T":180,"x":31.14,"y":780},{"T":180,"x":31.16,"y":990},{"T":180,"x":31.18,"y":1120},{"T":180,"x":31.2,"y":1160},{"T":180,"x":31.22,"y":1190},{"T":180,"x":31.24,"y":1200},{"T":180,"x":31.26,"y":1140},{"T":180,"x":31.28,"y":1080},{"T":180,"x":31.3,"y":990},{"T":180,"x":31.32,"y":880},{"T":180,"x":31.34,"y":760},{"T":180,"x":31.36,"y":634},{"T":180,"x":31.38,"y":530},{"T":180,"x":31.4,"y":450},{"T":180,"x":31.42,"y":400},{"T":180,"x":31.44,"y":370},{"T":180,"x":31.46,"y":350},{"T":180,"x":31.48,"y":335},{"T":180,"x":31.5,"y":325},
{"T":180,"x":31.55,"y":338},{"T":180,"x":31.6,"y":320},{"T":180,"x":31.65,"y":300},{"T":180,"x":31.7,"y":280},{"T":180,"x":31.75,"y":262},{"T":180,"x":31.8,"y":250},{"T":180,"x":31.85,"y":242},{"T":180,"x":31.9,"y":235},{"T":180,"x":31.95,"y":220},{"T":180,"x":32,"y":208},{"T":180,"x":32.05,"y":222},{"T":180,"x":32.1,"y":232},{"T":180,"x":32.15,"y":242},{"T":180,"x":32.2,"y":238},{"T":180,"x":32.25,"y":248},{"T":180,"x":32.3,"y":240},{"T":180,"x":32.35,"y":226},
{"T":185,"x":28.72,"y":590},{"T":185,"x":28.75,"y":575},{"T":185,"x":28.8,"y":555},{"T":185,"x":28.85,"y":550},{"T":185,"x":28.9,"y":570},{"T":185,"x":28.95,"y":575},{"T":185,"x":29,"y":565},{"T":185,"x":29.05,"y":580},{"T":185,"x":29.1,"y":575},{"T":185,"x":29.15,"y":575},{"T":185,"x":29.2,"y":590},{"T":185,"x":29.25,"y":605},{"T":185,"x":29.3,"y":620},{"T":185,"x":29.35,"y":650},{"T":185,"x":29.4,"y":690},{"T":185,"x":29.45,"y":740},{"T":185,"x":29.5,"y":680},{"T":185,"x":29.55,"y":670},{"T":185,"x":29.6,"y":645},{"T":185,"x":29.65,"y":610},{"T":185,"x":29.7,"y":580},{"T":185,"x":29.75,"y":560},{"T":185,"x":29.8,"y":525},{"T":185,"x":29.85,"y":500},{"T":185,"x":29.9,"y":505},{"T":185,"x":29.95,"y":530},{"T":185,"x":30,"y":555},{"T":185,"x":30.05,"y":570},{"T":185,"x":30.1,"y":580},{"T":185,"x":30.15,"y":600},{"T":185,"x":30.2,"y":615},{"T":185,"x":30.25,"y":625},{"T":185,"x":30.3,"y":620},{"T":185,"x":30.35,"y":600},{"T":185,"x":30.4,"y":560},{"T":185,"x":30.45,"y":490},{"T":185,"x":30.5,"y":480},{"T":185,"x":30.55,"y":520},{"T":185,"x":30.6,"y":555},{"T":185,"x":30.65,"y":565},{"T":185,"x":30.7,"y":555},{"T":185,"x":30.75,"y":540},{"T":185,"x":30.8,"y":525},{"T":185,"x":30.85,"y":510},{"T":185,"x":30.9,"y":500},{"T":185,"x":30.95,"y":495},{"T":185,"x":31,"y":500},
{"T":185,"x":31.02,"y":495},{"T":185,"x":31.04,"y":505},{"T":185,"x":31.06,"y":510},{"T":185,"x":31.08,"y":520},{"T":185,"x":31.1,"y":560},{"T":185,"x":31.12,"y":670},{"T":185,"x":31.14,"y":860},{"T":185,"x":31.16,"y":1030},{"T":185,"x":31.18,"y":1120},{"T":185,"x":31.2,"y":1140},{"T":185,"x":31.22,"y":1110},{"T":185,"x":31.24,"y":1040},{"T":185,"x":31.26,"y":975},{"T":185,"x":31.28,"y":870},{"T":185,"x":31.3,"y":758},{"T":185,"x":31.32,"y":660},{"T":185,"x":31.34,"y":581},{"T":185,"x":31.36,"y":500},{"T":185,"x":31.38,"y":440},{"T":185,"x":31.4,"y":400},{"T":185,"x":31.42,"y":375},{"T":185,"x":31.44,"y":360},{"T":185,"x":31.46,"y":345},{"T":185,"x":31.48,"y":335},{"T":185,"x":31.5,"y":325},
{"T":185,"x":31.55,"y":342},{"T":185,"x":31.6,"y":322},{"T":185,"x":31.65,"y":302},{"T":185,"x":31.7,"y":282},{"T":185,"x":31.75,"y":264},{"T":185,"x":31.8,"y":252},{"T":185,"x":31.85,"y":244},{"T":185,"x":31.9,"y":237},{"T":185,"x":31.95,"y":222},{"T":185,"x":32,"y":210},{"T":185,"x":32.05,"y":224},{"T":185,"x":32.1,"y":234},{"T":185,"x":32.15,"y":244},{"T":185,"x":32.2,"y":240},{"T":185,"x":32.25,"y":250},{"T":185,"x":32.3,"y":242},{"T":185,"x":32.35,"y":228},
{"T":190,"x":28.72,"y":600},{"T":190,"x":28.75,"y":585},{"T":190,"x":28.8,"y":560},{"T":190,"x":28.85,"y":560},{"T":190,"x":28.9,"y":575},{"T":190,"x":28.95,"y":585},{"T":190,"x":29,"y":575},{"T":190,"x":29.05,"y":590},{"T":190,"x":29.1,"y":585},{"T":190,"x":29.15,"y":580},{"T":190,"x":29.2,"y":600},{"T":190,"x":29.25,"y":620},{"T":190,"x":29.3,"y":690},{"T":190,"x":29.35,"y":800},{"T":190,"x":29.4,"y":890},{"T":190,"x":29.45,"y":895},{"T":190,"x":29.5,"y":810},{"T":190,"x":29.55,"y":750},{"T":190,"x":29.6,"y":660},{"T":190,"x":29.65,"y":630},{"T":190,"x":29.7,"y":600},{"T":190,"x":29.75,"y":575},{"T":190,"x":29.8,"y":535},{"T":190,"x":29.85,"y":505},{"T":190,"x":29.9,"y":510},{"T":190,"x":29.95,"y":540},{"T":190,"x":30,"y":565},{"T":190,"x":30.05,"y":580},{"T":190,"x":30.1,"y":600},{"T":190,"x":30.15,"y":620},{"T":190,"x":30.2,"y":645},{"T":190,"x":30.25,"y":665},{"T":190,"x":30.3,"y":672},{"T":190,"x":30.35,"y":630},{"T":190,"x":30.4,"y":575},{"T":190,"x":30.45,"y":495},{"T":190,"x":30.5,"y":485},{"T":190,"x":30.55,"y":525},{"T":190,"x":30.6,"y":565},{"T":190,"x":30.65,"y":570},{"T":190,"x":30.7,"y":560},{"T":190,"x":30.75,"y":545},{"T":190,"x":30.8,"y":530},{"T":190,"x":30.85,"y":515},{"T":190,"x":30.9,"y":505},{"T":190,"x":30.95,"y":500},{"T":190,"x":31,"y":505},
{"T":190,"x":31.02,"y":510},{"T":190,"x":31.04,"y":505},{"T":190,"x":31.06,"y":515},{"T":190,"x":31.08,"y":525},{"T":190,"x":31.1,"y":600},{"T":190,"x":31.12,"y":830},{"T":190,"x":31.14,"y":1250},{"T":190,"x":31.16,"y":1150},{"T":190,"x":31.18,"y":1000},{"T":190,"x":31.2,"y":950},{"T":190,"x":31.22,"y":930},{"T":190,"x":31.24,"y":890},{"T":190,"x":31.26,"y":850},{"T":190,"x":31.28,"y":790},{"T":190,"x":31.3,"y":725},{"T":190,"x":31.32,"y":650},{"T":190,"x":31.34,"y":581},{"T":190,"x":31.36,"y":510},{"T":190,"x":31.38,"y":450},{"T":190,"x":31.4,"y":410},{"T":190,"x":31.42,"y":380},{"T":190,"x":31.44,"y":360},{"T":190,"x":31.46,"y":345},{"T":190,"x":31.48,"y":335},{"T":190,"x":31.5,"y":330},
{"T":190,"x":31.55,"y":345},{"T":190,"x":31.6,"y":324},{"T":190,"x":31.65,"y":304},{"T":190,"x":31.7,"y":284},{"T":190,"x":31.75,"y":266},{"T":190,"x":31.8,"y":254},{"T":190,"x":31.85,"y":246},{"T":190,"x":31.9,"y":238},{"T":190,"x":31.95,"y":224},{"T":190,"x":32,"y":212},{"T":190,"x":32.05,"y":226},{"T":190,"x":32.1,"y":236},{"T":190,"x":32.15,"y":246},{"T":190,"x":32.2,"y":242},{"T":190,"x":32.25,"y":252},{"T":190,"x":32.3,"y":244},{"T":190,"x":32.35,"y":230},
{"T":195,"x":28.72,"y":605},{"T":195,"x":28.75,"y":590},{"T":195,"x":28.8,"y":570},{"T":195,"x":28.85,"y":565},{"T":195,"x":28.9,"y":580},{"T":195,"x":28.95,"y":590},{"T":195,"x":29,"y":595},{"T":195,"x":29.05,"y":600},{"T":195,"x":29.1,"y":605},{"T":195,"x":29.15,"y":600},{"T":195,"x":29.2,"y":620},{"T":195,"x":29.25,"y":670},{"T":195,"x":29.3,"y":745},{"T":195,"x":29.35,"y":860},{"T":195,"x":29.4,"y":1070},{"T":195,"x":29.45,"y":1050},{"T":195,"x":29.5,"y":850},{"T":195,"x":29.55,"y":740},{"T":195,"x":29.6,"y":660},{"T":195,"x":29.65,"y":620},{"T":195,"x":29.7,"y":600},{"T":195,"x":29.75,"y":585},{"T":195,"x":29.8,"y":545},{"T":195,"x":29.85,"y":510},{"T":195,"x":29.9,"y":515},{"T":195,"x":29.95,"y":545},{"T":195,"x":30,"y":575},{"T":195,"x":30.05,"y":595},{"T":195,"x":30.1,"y":620},{"T":195,"x":30.15,"y":640},{"T":195,"x":30.2,"y":660},{"T":195,"x":30.25,"y":690},{"T":195,"x":30.3,"y":700},{"T":195,"x":30.35,"y":660},{"T":195,"x":30.4,"y":590},{"T":195,"x":30.45,"y":505},{"T":195,"x":30.5,"y":490},{"T":195,"x":30.55,"y":530},{"T":195,"x":30.6,"y":575},{"T":195,"x":30.65,"y":580},{"T":195,"x":30.7,"y":570},{"T":195,"x":30.75,"y":555},{"T":195,"x":30.8,"y":540},{"T":195,"x":30.85,"y":525},{"T":195,"x":30.9,"y":510},{"T":195,"x":30.95,"y":510},{"T":195,"x":31,"y":515},
{"T":195,"x":31.02,"y":520},{"T":195,"x":31.04,"y":515},{"T":195,"x":31.06,"y":520},{"T":195,"x":31.08,"y":530},{"T":195,"x":31.1,"y":545},{"T":195,"x":31.12,"y":600},{"T":195,"x":31.14,"y":690},{"T":195,"x":31.16,"y":780},{"T":195,"x":31.18,"y":840},{"T":195,"x":31.2,"y":885},{"T":195,"x":31.22,"y":860},{"T":195,"x":31.24,"y":905},{"T":195,"x":31.26,"y":900},{"T":195,"x":31.28,"y":860},{"T":195,"x":31.3,"y":760},{"T":195,"x":31.32,"y":650},{"T":195,"x":31.34,"y":560},{"T":195,"x":31.36,"y":500},{"T":195,"x":31.38,"y":450},{"T":195,"x":31.4,"y":410},{"T":195,"x":31.42,"y":380},{"T":195,"x":31.44,"y":360},{"T":195,"x":31.46,"y":345},{"T":195,"x":31.48,"y":335},{"T":195,"x":31.5,"y":330},
{"T":195,"x":31.55,"y":348},{"T":195,"x":31.6,"y":326},{"T":195,"x":31.65,"y":306},{"T":195,"x":31.7,"y":286},{"T":195,"x":31.75,"y":268},{"T":195,"x":31.8,"y":256},{"T":195,"x":31.85,"y":248},{"T":195,"x":31.9,"y":240},{"T":195,"x":31.95,"y":226},{"T":195,"x":32,"y":214},{"T":195,"x":32.05,"y":228},{"T":195,"x":32.1,"y":238},{"T":195,"x":32.15,"y":248},{"T":195,"x":32.2,"y":244},{"T":195,"x":32.25,"y":254},{"T":195,"x":32.3,"y":246},{"T":195,"x":32.35,"y":232},
{"T":200,"x":28.72,"y":600},{"T":200,"x":28.75,"y":585},{"T":200,"x":28.8,"y":575},{"T":200,"x":28.85,"y":570},{"T":200,"x":28.9,"y":590},{"T":200,"x":28.95,"y":600},{"T":200,"x":29,"y":610},{"T":200,"x":29.05,"y":605},{"T":200,"x":29.1,"y":615},{"T":200,"x":29.15,"y":620},{"T":200,"x":29.2,"y":650},{"T":200,"x":29.25,"y":710},{"T":200,"x":29.3,"y":870},{"T":200,"x":29.35,"y":1030},{"T":200,"x":29.4,"y":1130},{"T":200,"x":29.45,"y":1120},{"T":200,"x":29.5,"y":850},{"T":200,"x":29.55,"y":730},{"T":200,"x":29.6,"y":660},{"T":200,"x":29.65,"y":610},{"T":200,"x":29.7,"y":600},{"T":200,"x":29.75,"y":580},{"T":200,"x":29.8,"y":545},{"T":200,"x":29.85,"y":505},{"T":200,"x":29.9,"y":520},{"T":200,"x":29.95,"y":550},{"T":200,"x":30,"y":580},{"T":200,"x":30.05,"y":600},{"T":200,"x":30.1,"y":630},{"T":200,"x":30.15,"y":655},{"T":200,"x":30.2,"y":680},{"T":200,"x":30.25,"y":732},{"T":200,"x":30.3,"y":720},{"T":200,"x":30.35,"y":680},{"T":200,"x":30.4,"y":600},{"T":200,"x":30.45,"y":510},{"T":200,"x":30.5,"y":490},{"T":200,"x":30.55,"y":530},{"T":200,"x":30.6,"y":575},{"T":200,"x":30.65,"y":585},{"T":200,"x":30.7,"y":575},{"T":200,"x":30.75,"y":560},{"T":200,"x":30.8,"y":540},{"T":200,"x":30.85,"y":525},{"T":200,"x":30.9,"y":510},{"T":200,"x":30.95,"y":505},{"T":200,"x":31,"y":510},
{"T":200,"x":31.02,"y":515},{"T":200,"x":31.04,"y":510},{"T":200,"x":31.06,"y":520},{"T":200,"x":31.08,"y":530},{"T":200,"x":31.1,"y":545},{"T":200,"x":31.12,"y":560},{"T":200,"x":31.14,"y":580},{"T":200,"x":31.16,"y":597},{"T":200,"x":31.18,"y":620},{"T":200,"x":31.2,"y":670},{"T":200,"x":31.22,"y":680},{"T":200,"x":31.24,"y":600},{"T":200,"x":31.26,"y":560},{"T":200,"x":31.28,"y":540},{"T":200,"x":31.3,"y":480},{"T":200,"x":31.32,"y":450},{"T":200,"x":31.34,"y":440},{"T":200,"x":31.36,"y":430},{"T":200,"x":31.38,"y":400},{"T":200,"x":31.4,"y":380},{"T":200,"x":31.42,"y":370},{"T":200,"x":31.44,"y":355},{"T":200,"x":31.46,"y":345},{"T":200,"x":31.48,"y":335},{"T":200,"x":31.5,"y":330},
{"T":200,"x":31.55,"y":345},{"T":200,"x":31.6,"y":325},{"T":200,"x":31.65,"y":305},{"T":200,"x":31.7,"y":285},{"T":200,"x":31.75,"y":267},{"T":200,"x":31.8,"y":255},{"T":200,"x":31.85,"y":247},{"T":200,"x":31.9,"y":239},{"T":200,"x":31.95,"y":225},{"T":200,"x":32,"y":213},{"T":200,"x":32.05,"y":227},{"T":200,"x":32.1,"y":237},{"T":200,"x":32.15,"y":247},{"T":200,"x":32.2,"y":243},{"T":200,"x":32.25,"y":253},{"T":200,"x":32.3,"y":245},{"T":200,"x":32.35,"y":231},
{"T":205,"x":28.72,"y":610},{"T":205,"x":28.75,"y":590},{"T":205,"x":28.8,"y":580},{"T":205,"x":28.85,"y":575},{"T":205,"x":28.9,"y":595},{"T":205,"x":28.95,"y":605},{"T":205,"x":29,"y":600},{"T":205,"x":29.05,"y":610},{"T":205,"x":29.1,"y":620},{"T":205,"x":29.15,"y":630},{"T":205,"x":29.2,"y":660},{"T":205,"x":29.25,"y":730},{"T":205,"x":29.3,"y":880},{"T":205,"x":29.35,"y":1060},{"T":205,"x":29.4,"y":1160},{"T":205,"x":29.45,"y":1090},{"T":205,"x":29.5,"y":860},{"T":205,"x":29.55,"y":740},{"T":205,"x":29.6,"y":660},{"T":205,"x":29.65,"y":620},{"T":205,"x":29.7,"y":605},{"T":205,"x":29.75,"y":585},{"T":205,"x":29.8,"y":550},{"T":205,"x":29.85,"y":510},{"T":205,"x":29.9,"y":525},{"T":205,"x":29.95,"y":555},{"T":205,"x":30,"y":585},{"T":205,"x":30.05,"y":605},{"T":205,"x":30.1,"y":635},{"T":205,"x":30.15,"y":660},{"T":205,"x":30.2,"y":690},{"T":205,"x":30.25,"y":720},{"T":205,"x":30.3,"y":710},{"T":205,"x":30.35,"y":670},{"T":205,"x":30.4,"y":600},{"T":205,"x":30.45,"y":515},{"T":205,"x":30.5,"y":495},{"T":205,"x":30.55,"y":535},{"T":205,"x":30.6,"y":580},{"T":205,"x":30.65,"y":590},{"T":205,"x":30.7,"y":580},{"T":205,"x":30.75,"y":560},{"T":205,"x":30.8,"y":545},{"T":205,"x":30.85,"y":530},{"T":205,"x":30.9,"y":515},{"T":205,"x":30.95,"y":510},{"T":205,"x":31,"y":515},
{"T":205,"x":31.02,"y":520},{"T":205,"x":31.04,"y":515},{"T":205,"x":31.06,"y":525},{"T":205,"x":31.08,"y":530},{"T":205,"x":31.1,"y":540},{"T":205,"x":31.12,"y":570},{"T":205,"x":31.14,"y":600},{"T":205,"x":31.16,"y":618},{"T":205,"x":31.18,"y":600},{"T":205,"x":31.2,"y":590},{"T":205,"x":31.22,"y":581},{"T":205,"x":31.24,"y":560},{"T":205,"x":31.26,"y":530},{"T":205,"x":31.28,"y":517},{"T":205,"x":31.3,"y":480},{"T":205,"x":31.32,"y":450},{"T":205,"x":31.34,"y":430},{"T":205,"x":31.36,"y":410},{"T":205,"x":31.38,"y":395},{"T":205,"x":31.4,"y":380},{"T":205,"x":31.42,"y":370},{"T":205,"x":31.44,"y":355},{"T":205,"x":31.46,"y":345},{"T":205,"x":31.48,"y":335},{"T":205,"x":31.5,"y":330},
{"T":205,"x":31.55,"y":346},{"T":205,"x":31.6,"y":326},{"T":205,"x":31.65,"y":306},{"T":205,"x":31.7,"y":286},{"T":205,"x":31.75,"y":268},{"T":205,"x":31.8,"y":256},{"T":205,"x":31.85,"y":248},{"T":205,"x":31.9,"y":240},{"T":205,"x":31.95,"y":226},{"T":205,"x":32,"y":214},{"T":205,"x":32.05,"y":228},{"T":205,"x":32.1,"y":238},{"T":205,"x":32.15,"y":248},{"T":205,"x":32.2,"y":244},{"T":205,"x":32.25,"y":254},{"T":205,"x":32.3,"y":246},{"T":205,"x":32.35,"y":232},
{"T":210,"x":28.72,"y":615},{"T":210,"x":28.75,"y":595},{"T":210,"x":28.8,"y":585},{"T":210,"x":28.85,"y":580},{"T":210,"x":28.9,"y":600},{"T":210,"x":28.95,"y":610},{"T":210,"x":29,"y":615},{"T":210,"x":29.05,"y":610},{"T":210,"x":29.1,"y":625},{"T":210,"x":29.15,"y":640},{"T":210,"x":29.2,"y":670},{"T":210,"x":29.25,"y":740},{"T":210,"x":29.3,"y":900},{"T":210,"x":29.35,"y":1080},{"T":210,"x":29.4,"y":1185},{"T":210,"x":29.45,"y":1100},{"T":210,"x":29.5,"y":870},{"T":210,"x":29.55,"y":750},{"T":210,"x":29.6,"y":670},{"T":210,"x":29.65,"y":620},{"T":210,"x":29.7,"y":610},{"T":210,"x":29.75,"y":590},{"T":210,"x":29.8,"y":555},{"T":210,"x":29.85,"y":515},{"T":210,"x":29.9,"y":530},{"T":210,"x":29.95,"y":560},{"T":210,"x":30,"y":590},{"T":210,"x":30.05,"y":610},{"T":210,"x":30.1,"y":640},{"T":210,"x":30.15,"y":665},{"T":210,"x":30.2,"y":690},{"T":210,"x":30.25,"y":725},{"T":210,"x":30.3,"y":730},{"T":210,"x":30.35,"y":690},{"T":210,"x":30.4,"y":610},{"T":210,"x":30.45,"y":520},{"T":210,"x":30.5,"y":495},{"T":210,"x":30.55,"y":535},{"T":210,"x":30.6,"y":580},{"T":210,"x":30.65,"y":595},{"T":210,"x":30.7,"y":585},{"T":210,"x":30.75,"y":565},{"T":210,"x":30.8,"y":550},{"T":210,"x":30.85,"y":530},{"T":210,"x":30.9,"y":515},{"T":210,"x":30.95,"y":510},{"T":210,"x":31,"y":515},
{"T":210,"x":31.02,"y":520},{"T":210,"x":31.04,"y":515},{"T":210,"x":31.06,"y":525},{"T":210,"x":31.08,"y":530},{"T":210,"x":31.1,"y":560},{"T":210,"x":31.12,"y":950},{"T":210,"x":31.14,"y":1230},{"T":210,"x":31.16,"y":1590},{"T":210,"x":31.18,"y":1430},{"T":210,"x":31.2,"y":1210},{"T":210,"x":31.22,"y":1050},{"T":210,"x":31.24,"y":870},{"T":210,"x":31.26,"y":700},{"T":210,"x":31.28,"y":560},{"T":210,"x":31.3,"y":458},{"T":210,"x":31.32,"y":430},{"T":210,"x":31.34,"y":420},{"T":210,"x":31.36,"y":405},{"T":210,"x":31.38,"y":390},{"T":210,"x":31.4,"y":380},{"T":210,"x":31.42,"y":370},{"T":210,"x":31.44,"y":355},{"T":210,"x":31.46,"y":345},{"T":210,"x":31.48,"y":335},{"T":210,"x":31.5,"y":330},
{"T":210,"x":31.55,"y":344},{"T":210,"x":31.6,"y":324},{"T":210,"x":31.65,"y":304},{"T":210,"x":31.7,"y":284},{"T":210,"x":31.75,"y":266},{"T":210,"x":31.8,"y":254},{"T":210,"x":31.85,"y":246},{"T":210,"x":31.9,"y":238},{"T":210,"x":31.95,"y":224},{"T":210,"x":32,"y":212},{"T":210,"x":32.05,"y":226},{"T":210,"x":32.1,"y":236},{"T":210,"x":32.15,"y":246},{"T":210,"x":32.2,"y":242},{"T":210,"x":32.25,"y":252},{"T":210,"x":32.3,"y":244},{"T":210,"x":32.35,"y":230},
{"T":215,"x":28.72,"y":610},{"T":215,"x":28.75,"y":600},{"T":215,"x":28.8,"y":585},{"T":215,"x":28.85,"y":585},{"T":215,"x":28.9,"y":600},{"T":215,"x":28.95,"y":615},{"T":215,"x":29,"y":610},{"T":215,"x":29.05,"y":620},{"T":215,"x":29.1,"y":630},{"T":215,"x":29.15,"y":645},{"T":215,"x":29.2,"y":680},{"T":215,"x":29.25,"y":760},{"T":215,"x":29.3,"y":930},{"T":215,"x":29.35,"y":1120},{"T":215,"x":29.4,"y":1215},{"T":215,"x":29.45,"y":1120},{"T":215,"x":29.5,"y":880},{"T":215,"x":29.55,"y":760},{"T":215,"x":29.6,"y":680},{"T":215,"x":29.65,"y":630},{"T":215,"x":29.7,"y":615},{"T":215,"x":29.75,"y":595},{"T":215,"x":29.8,"y":560},{"T":215,"x":29.85,"y":520},{"T":215,"x":29.9,"y":535},{"T":215,"x":29.95,"y":565},{"T":215,"x":30,"y":595},{"T":215,"x":30.05,"y":615},{"T":215,"x":30.1,"y":650},{"T":215,"x":30.15,"y":675},{"T":215,"x":30.2,"y":700},{"T":215,"x":30.25,"y":745},{"T":215,"x":30.3,"y":760},{"T":215,"x":30.35,"y":700},{"T":215,"x":30.4,"y":615},{"T":215,"x":30.45,"y":520},{"T":215,"x":30.5,"y":495},{"T":215,"x":30.55,"y":540},{"T":215,"x":30.6,"y":585},{"T":215,"x":30.65,"y":600},{"T":215,"x":30.7,"y":590},{"T":215,"x":30.75,"y":570},{"T":215,"x":30.8,"y":555},{"T":215,"x":30.85,"y":535},{"T":215,"x":30.9,"y":520},{"T":215,"x":30.95,"y":515},{"T":215,"x":31,"y":520},
{"T":215,"x":31.02,"y":515},{"T":215,"x":31.04,"y":525},{"T":215,"x":31.06,"y":520},{"T":215,"x":31.08,"y":530},{"T":215,"x":31.1,"y":525},{"T":215,"x":31.12,"y":520},{"T":215,"x":31.14,"y":530},{"T":215,"x":31.16,"y":540},{"T":215,"x":31.18,"y":520},{"T":215,"x":31.2,"y":500},{"T":215,"x":31.22,"y":490},{"T":215,"x":31.24,"y":480},{"T":215,"x":31.26,"y":470},{"T":215,"x":31.28,"y":455},{"T":215,"x":31.3,"y":440},{"T":215,"x":31.32,"y":425},{"T":215,"x":31.34,"y":410},{"T":215,"x":31.36,"y":400},{"T":215,"x":31.38,"y":390},{"T":215,"x":31.4,"y":375},{"T":215,"x":31.42,"y":365},{"T":215,"x":31.44,"y":355},{"T":215,"x":31.46,"y":345},{"T":215,"x":31.48,"y":335},{"T":215,"x":31.5,"y":325},
{"T":215,"x":31.55,"y":348},{"T":215,"x":31.6,"y":328},{"T":215,"x":31.65,"y":308},{"T":215,"x":31.7,"y":288},{"T":215,"x":31.75,"y":270},{"T":215,"x":31.8,"y":258},{"T":215,"x":31.85,"y":250},{"T":215,"x":31.9,"y":242},{"T":215,"x":31.95,"y":228},{"T":215,"x":32,"y":216},{"T":215,"x":32.05,"y":230},{"T":215,"x":32.1,"y":240},{"T":215,"x":32.15,"y":250},{"T":215,"x":32.2,"y":246},{"T":215,"x":32.25,"y":256},{"T":215,"x":32.3,"y":248},{"T":215,"x":32.35,"y":234},
{"T":220,"x":28.72,"y":615},{"T":220,"x":28.75,"y":600},{"T":220,"x":28.8,"y":590},{"T":220,"x":28.85,"y":585},{"T":220,"x":28.9,"y":605},{"T":220,"x":28.95,"y":615},{"T":220,"x":29,"y":620},{"T":220,"x":29.05,"y":615},{"T":220,"x":29.1,"y":620},{"T":220,"x":29.15,"y":640},{"T":220,"x":29.2,"y":690},{"T":220,"x":29.25,"y":780},{"T":220,"x":29.3,"y":960},{"T":220,"x":29.35,"y":1150},{"T":220,"x":29.4,"y":1245},{"T":220,"x":29.45,"y":1130},{"T":220,"x":29.5,"y":890},{"T":220,"x":29.55,"y":770},{"T":220,"x":29.6,"y":690},{"T":220,"x":29.65,"y":640},{"T":220,"x":29.7,"y":610},{"T":220,"x":29.75,"y":590},{"T":220,"x":29.8,"y":560},{"T":220,"x":29.85,"y":520},{"T":220,"x":29.9,"y":540},{"T":220,"x":29.95,"y":570},{"T":220,"x":30,"y":600},{"T":220,"x":30.05,"y":625},{"T":220,"x":30.1,"y":660},{"T":220,"x":30.15,"y":690},{"T":220,"x":30.2,"y":700},{"T":220,"x":30.25,"y":760},{"T":220,"x":30.3,"y":810},{"T":220,"x":30.35,"y":740},{"T":220,"x":30.4,"y":620},{"T":220,"x":30.45,"y":520},{"T":220,"x":30.5,"y":490},{"T":220,"x":30.55,"y":540},{"T":220,"x":30.6,"y":585},{"T":220,"x":30.65,"y":600},{"T":220,"x":30.7,"y":590},{"T":220,"x":30.75,"y":570},{"T":220,"x":30.8,"y":555},{"T":220,"x":30.85,"y":535},{"T":220,"x":30.9,"y":520},{"T":220,"x":30.95,"y":515},{"T":220,"x":31,"y":520},
{"T":220,"x":31.02,"y":510},{"T":220,"x":31.04,"y":520},{"T":220,"x":31.06,"y":525},{"T":220,"x":31.08,"y":515},{"T":220,"x":31.1,"y":520},{"T":220,"x":31.12,"y":510},{"T":220,"x":31.14,"y":505},{"T":220,"x":31.16,"y":500},{"T":220,"x":31.18,"y":490},{"T":220,"x":31.2,"y":480},{"T":220,"x":31.22,"y":470},{"T":220,"x":31.24,"y":465},{"T":220,"x":31.26,"y":455},{"T":220,"x":31.28,"y":440},{"T":220,"x":31.3,"y":425},{"T":220,"x":31.32,"y":415},{"T":220,"x":31.34,"y":400},{"T":220,"x":31.36,"y":395},{"T":220,"x":31.38,"y":385},{"T":220,"x":31.4,"y":370},{"T":220,"x":31.42,"y":360},{"T":220,"x":31.44,"y":345},{"T":220,"x":31.46,"y":335},{"T":220,"x":31.48,"y":325},{"T":220,"x":31.5,"y":320},
{"T":220,"x":31.55,"y":346},{"T":220,"x":31.6,"y":326},{"T":220,"x":31.65,"y":306},{"T":220,"x":31.7,"y":286},{"T":220,"x":31.75,"y":268},{"T":220,"x":31.8,"y":256},{"T":220,"x":31.85,"y":248},{"T":220,"x":31.9,"y":240},{"T":220,"x":31.95,"y":226},{"T":220,"x":32,"y":214},{"T":220,"x":32.05,"y":228},{"T":220,"x":32.1,"y":238},{"T":220,"x":32.15,"y":248},{"T":220,"x":32.2,"y":244},{"T":220,"x":32.25,"y":254},{"T":220,"x":32.3,"y":246},{"T":220,"x":32.35,"y":232},
{"T":225,"x":28.72,"y":605},{"T":225,"x":28.75,"y":595},{"T":225,"x":28.8,"y":580},{"T":225,"x":28.85,"y":580},{"T":225,"x":28.9,"y":600},{"T":225,"x":28.95,"y":620},{"T":225,"x":29,"y":625},{"T":225,"x":29.05,"y":630},{"T":225,"x":29.1,"y":640},{"T":225,"x":29.15,"y":660},{"T":225,"x":29.2,"y":700},{"T":225,"x":29.25,"y":800},{"T":225,"x":29.3,"y":1020},{"T":225,"x":29.35,"y":1200},{"T":225,"x":29.4,"y":1262},{"T":225,"x":29.45,"y":1130},{"T":225,"x":29.5,"y":900},{"T":225,"x":29.55,"y":780},{"T":225,"x":29.6,"y":700},{"T":225,"x":29.65,"y":650},{"T":225,"x":29.7,"y":625},{"T":225,"x":29.75,"y":600},{"T":225,"x":29.8,"y":555},{"T":225,"x":29.85,"y":510},{"T":225,"x":29.9,"y":530},{"T":225,"x":29.95,"y":565},{"T":225,"x":30,"y":600},{"T":225,"x":30.05,"y":620},{"T":225,"x":30.1,"y":650},{"T":225,"x":30.15,"y":680},{"T":225,"x":30.2,"y":710},{"T":225,"x":30.25,"y":750},{"T":225,"x":30.3,"y":765},{"T":225,"x":30.35,"y":710},{"T":225,"x":30.4,"y":620},{"T":225,"x":30.45,"y":525},{"T":225,"x":30.5,"y":485},{"T":225,"x":30.55,"y":535},{"T":225,"x":30.6,"y":580},{"T":225,"x":30.65,"y":595},{"T":225,"x":30.7,"y":585},{"T":225,"x":30.75,"y":565},{"T":225,"x":30.8,"y":550},{"T":225,"x":30.85,"y":530},{"T":225,"x":30.9,"y":515},{"T":225,"x":30.95,"y":505},{"T":225,"x":31,"y":510},
{"T":225,"x":31.02,"y":505},{"T":225,"x":31.04,"y":515},{"T":225,"x":31.06,"y":510},{"T":225,"x":31.08,"y":505},{"T":225,"x":31.1,"y":500},{"T":225,"x":31.12,"y":495},{"T":225,"x":31.14,"y":490},{"T":225,"x":31.16,"y":495},{"T":225,"x":31.18,"y":480},{"T":225,"x":31.2,"y":470},{"T":225,"x":31.22,"y":465},{"T":225,"x":31.24,"y":455},{"T":225,"x":31.26,"y":450},{"T":225,"x":31.28,"y":440},{"T":225,"x":31.3,"y":430},{"T":225,"x":31.32,"y":420},{"T":225,"x":31.34,"y":410},{"T":225,"x":31.36,"y":400},{"T":225,"x":31.38,"y":390},{"T":225,"x":31.4,"y":380},{"T":225,"x":31.42,"y":370},{"T":225,"x":31.44,"y":355},{"T":225,"x":31.46,"y":345},{"T":225,"x":31.48,"y":335},{"T":225,"x":31.5,"y":325},
{"T":225,"x":31.55,"y":350},{"T":225,"x":31.6,"y":330},{"T":225,"x":31.65,"y":310},{"T":225,"x":31.7,"y":290},{"T":225,"x":31.75,"y":272},{"T":225,"x":31.8,"y":260},{"T":225,"x":31.85,"y":252},{"T":225,"x":31.9,"y":244},{"T":225,"x":31.95,"y":230},{"T":225,"x":32,"y":218},{"T":225,"x":32.05,"y":232},{"T":225,"x":32.1,"y":242},{"T":225,"x":32.15,"y":252},{"T":225,"x":32.2,"y":248},{"T":225,"x":32.25,"y":258},{"T":225,"x":32.3,"y":250},{"T":225,"x":32.35,"y":236},
{"T":250,"x":28.72,"y":620},{"T":250,"x":28.75,"y":610},{"T":250,"x":28.8,"y":575},{"T":250,"x":28.85,"y":590},{"T":250,"x":28.9,"y":678},{"T":250,"x":28.95,"y":640},{"T":250,"x":29,"y":630},{"T":250,"x":29.05,"y":645},{"T":250,"x":29.1,"y":672},{"T":250,"x":29.15,"y":714},{"T":250,"x":29.2,"y":750},{"T":250,"x":29.25,"y":800},{"T":250,"x":29.3,"y":1040},{"T":250,"x":29.35,"y":1200},{"T":250,"x":29.4,"y":1262},{"T":250,"x":29.45,"y":1060},{"T":250,"x":29.5,"y":860},{"T":250,"x":29.55,"y":750},{"T":250,"x":29.6,"y":690},{"T":250,"x":29.65,"y":640},{"T":250,"x":29.7,"y":620},{"T":250,"x":29.75,"y":590},{"T":250,"x":29.8,"y":540},{"T":250,"x":29.85,"y":505},{"T":250,"x":29.9,"y":520},{"T":250,"x":29.95,"y":560},{"T":250,"x":30,"y":600},{"T":250,"x":30.05,"y":630},{"T":250,"x":30.1,"y":672},{"T":250,"x":30.15,"y":690},{"T":250,"x":30.2,"y":720},{"T":250,"x":30.25,"y":780},{"T":250,"x":30.3,"y":785},{"T":250,"x":30.35,"y":720},{"T":250,"x":30.4,"y":630},{"T":250,"x":30.45,"y":540},{"T":250,"x":30.5,"y":475},{"T":250,"x":30.55,"y":530},{"T":250,"x":30.6,"y":585},{"T":250,"x":30.65,"y":600},{"T":250,"x":30.7,"y":585},{"T":250,"x":30.75,"y":570},{"T":250,"x":30.8,"y":555},{"T":250,"x":30.85,"y":530},{"T":250,"x":30.9,"y":512},{"T":250,"x":30.95,"y":520},{"T":250,"x":31,"y":530},
{"T":250,"x":31.02,"y":520},{"T":250,"x":31.04,"y":510},{"T":250,"x":31.06,"y":505},{"T":250,"x":31.08,"y":500},{"T":250,"x":31.1,"y":490},{"T":250,"x":31.12,"y":495},{"T":250,"x":31.14,"y":490},{"T":250,"x":31.16,"y":490},{"T":250,"x":31.18,"y":480},{"T":250,"x":31.2,"y":475},{"T":250,"x":31.22,"y":465},{"T":250,"x":31.24,"y":460},{"T":250,"x":31.26,"y":455},{"T":250,"x":31.28,"y":448},{"T":250,"x":31.3,"y":440},{"T":250,"x":31.32,"y":425},{"T":250,"x":31.34,"y":410},{"T":250,"x":31.36,"y":400},{"T":250,"x":31.38,"y":390},{"T":250,"x":31.4,"y":385},{"T":250,"x":31.42,"y":370},{"T":250,"x":31.44,"y":360},{"T":250,"x":31.46,"y":345},{"T":250,"x":31.48,"y":330},{"T":250,"x":31.5,"y":330},
{"T":250,"x":31.55,"y":352},{"T":250,"x":31.6,"y":325},{"T":250,"x":31.65,"y":305},{"T":250,"x":31.7,"y":280},{"T":250,"x":31.75,"y":262},{"T":250,"x":31.8,"y":250},{"T":250,"x":31.85,"y":242},{"T":250,"x":31.9,"y":240},{"T":250,"x":31.95,"y":225},{"T":250,"x":32,"y":213},{"T":250,"x":32.05,"y":240},{"T":250,"x":32.1,"y":246},{"T":250,"x":32.15,"y":250},{"T":250,"x":32.2,"y":248},{"T":250,"x":32.25,"y":252},{"T":250,"x":32.3,"y":245},{"T":250,"x":32.35,"y":224}
]},
"mark":{"type":"line","strokeWidth":1.3,"interpolate":"linear"},
"encoding":{
"x":{"field":"x","type":"quantitative","scale":{"domain":[28.5,32.5],"nice":false,"zero":false},
"axis":{"values":[28.5,29.5,30.5,31.5,32.5],"format":".1f","title":"2 Theta","tickSize":4,"labelPadding":21,"labelFontSize":19,"labelFlush":false,"titleFontSize":24,"titleFontWeight":"bold","titleY":81,"titleBaseline":"alphabetic"}},
"y":{"field":"y","type":"quantitative","scale":{"domain":[0,2500],"nice":false},
"axis":{"values":[0,500,1000,1500,2000,2500],"format":"d","title":"Zählrate","tickSize":5,"labelPadding":9.6,"labelOffset":3,"labelFontSize":19,"titleAngle":0,"titleX":-101,"titleY":-49.7,"titleAlign":"left","titleBaseline":"alphabetic","titleFontSize":25,"titleFontWeight":"bold"}},
"color":{"field":"T","type":"nominal",
"scale":{"domain":[25,75,95,105,125,170,180,190,200,210,220,250,50,90,100,110,150,175,185,195,205,215,225],
"range":["#000000","#00EE00","#FFFF99","#E890B0","#0000FF","#E3E3E3","#3366FF","#33CCCC","#993333","#996633","#6666CC","#000080","#FF0000","#CCFFCC","#99CCFF","#CC99FF","#FFFF00","#FF00FF","#00FFFF","#4F8A3C","#A59D5E","#A86480","#008000"]},
"legend":{"orient":"none","legendX":828.7,"legendY":-32.3,"columns":2,"title":null,"symbolType":"stroke","symbolSize":1089,"symbolStrokeWidth":1.8,"labelFont":"Liberation Sans","labelFontSize":13,"labelColor":"black","labelOffset":3,"columnPadding":11,"rowPadding":7.6,"clipHeight":14,"padding":0,"labelLimit":200,
"labelExpr":"'T = ' + datum.label + (datum.value < 100 ? '\u00a0 °C' : ' °C')"}}
}},
{"data":{"values":[
{"x":29.1,"y":1464,"t":"1 1 2"},{"x":29.1,"y":1320,"t":"hexagonal"},
{"x":30.143,"y":1025,"t":"2 1 0"},{"x":30.143,"y":885,"t":"hexagonal"},
{"x":30.884,"y":2205,"t":"3 1 0"},{"x":30.884,"y":2070,"t":"kubisch"}]},
"mark":{"type":"text","align":"left","baseline":"middle","font":"Liberation Serif","fontSize":20,"color":"black"},
"encoding":{"x":{"field":"x","type":"quantitative"},"y":{"field":"y","type":"quantitative"},"text":{"field":"t"}}}
]
}
